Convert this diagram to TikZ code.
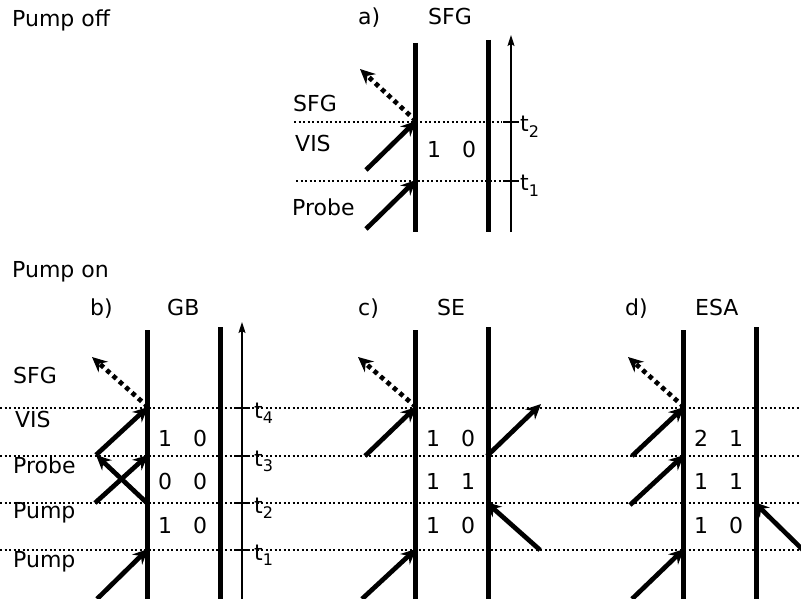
\documentclass[tikz,border=0pt]{standalone}
\usepackage{fontspec}
\setmainfont{DejaVu Sans}
\usetikzlibrary{arrows.meta}

\begin{document}
\begin{tikzpicture}[x=1pt,y=-1pt,
	wall/.style={line width=5pt},
	beam/.style={line width=4.7pt,-{Stealth[length=15pt,width=14pt,inset=5pt]}},
	signal/.style={line width=4.7pt,dash pattern=on 4.5pt off 4pt,-{Stealth[length=15pt,width=14pt,inset=5pt]}},
	level/.style={line width=1.7pt,dash pattern=on 2pt off 2.5pt},
	axis/.style={line width=1.4pt,-{Stealth[length=11pt,width=7pt,inset=2pt]}},
	txt/.style={anchor=base west,inner sep=0pt,font=\fontsize{22}{26}\selectfont},
	tlab/.style={txt}]
	\useasboundingbox (0,0) rectangle (801,599);
	\def\s{268} %shift between lower panels
	
	%WALLS
	\draw[wall] (415,43)--(415,232);
	\draw[wall] (488,40)--(488,232);
	\foreach \i in {0,1,2}{
		\draw[wall] (147+\i*\s,330)--(147+\i*\s,599);
		\draw[wall] (220+\i*\s,327)--(220+\i*\s,599);
	}
	
	%LEVELS
	\draw[level] (294,122)--(502,122);
	\draw[level] (296,181)--(502,181);
	\foreach \y in {408,456,503,550}
		\draw[level] (0,\y)--(801,\y);
	
	%TIME AXES
	\coordinate (ta0) at (511,232);
	\coordinate (ta1) at (511,35);
	\coordinate (tb0) at (242,599);
	\coordinate (tb1) at (242,322);
	\draw[axis] (ta0)--(ta1);
	\draw[axis] (tb0)--(tb1);
	\foreach \y/\l in {122/2,181/1}{
		\draw[line width=1.4pt] (503,\y)--(519,\y);
		\node[tlab] (ta\l) at (520,\y+10) {t\raisebox{-0.45ex}{\fontsize{16}{19}\selectfont\l}};
	}
	\foreach \y/\l in {408/4,456/3,503/2,550/1}{
		\draw[line width=1.4pt] (234,\y)--(250,\y);
		\node[tlab] (tb\l) at (254,\y+10) {t\raisebox{-0.45ex}{\fontsize{16}{19}\selectfont\l}};
	}
	
	%BEAM POINTS
	\foreach \n/\x/\y in {a0/366/229,a1/416/180,a2/366/170,a3/416/121,a4/360/69,
		b0/97/599,b1/148/549,b2/147/503,b3/96/455,b4/95/503,b5/148/455,b6/148/407,b7/92/357,
		c0/362/599,c1/416/549,c2/540/550,c3/486/502,c4/487/456,c5/541/404,c6/365/456,c7/416/407,c8/358/357,
		d0/632/599,d1/684/549,d2/803/550,d3/754/502,d4/630/505,d5/684/455,d6/632/456,d7/684/407,d8/628/357}
		\coordinate (\n) at (\x,\y);
	
	%BEAMS
	\draw[beam] (a0)--(a1);
	\draw[beam] (a2)--(a3);
	\draw[signal] (a3)--(a4);
	%
	\draw[beam] (b0)--(b1);
	\draw[beam] (b2)--(b3);
	\draw[beam] (b4)--(b5);
	\draw[beam] (b3)--(b6);
	\draw[signal] (b6)--(b7);
	%
	\draw[beam] (c0)--(c1);
	\draw[beam] (c2)--(c3);
	\draw[beam] (c4)--(c5);
	\draw[beam] (c6)--(c7);
	\draw[signal] (c7)--(c8);
	%
	\draw[beam] (d0)--(d1);
	\draw[beam] (d2)--(d3);
	\draw[beam] (d4)--(d5);
	\draw[beam] (d6)--(d7);
	\draw[signal] (d7)--(d8);
	
	%LABELS
	\node[txt] (off) at (12,27) {Pump off};
	\node[txt] (on) at (12,277) {Pump on};
	\foreach \n/\x/\y/\l in {a-tag/358/25/a),a-name/428/25/SFG,a-sfg/293/112/SFG,a-vis/295/152/VIS,a-probe/292/215/Probe,
		b-tag/90/315/b),b-name/167/315/GB,b-sfg/13/383/SFG,b-vis/15/427/VIS,b-probe/13/473/Probe,b-pumpa/13/518/Pump,b-pumpb/13/567/Pump,
		c-tag/358/315/c),c-name/437/315/SE,
		d-tag/625/315/d),d-name/695/315/ESA}
		\node[txt] (\n) at (\x,\y) {\l};
	
	%OCCUPATION NUMBERS
	\node[txt] (a-u1) at (427,158) {1};
	\node[txt] (a-v1) at (462,158) {0};
	\foreach \r/\y/\u/\v in {1/446/1/0,2/489/0/0,3/533/1/0}{
		\node[txt] (b-u\r) at (158,\y) {\u};
		\node[txt] (b-v\r) at (193,\y) {\v};
	}
	\foreach \r/\y/\u/\v in {1/446/1/0,2/489/1/1,3/533/1/0}{
		\node[txt] (c-u\r) at (158+\s,\y) {\u};
		\node[txt] (c-v\r) at (193+\s,\y) {\v};
	}
	\foreach \r/\y/\u/\v in {1/446/2/1,2/489/1/1,3/533/1/0}{
		\node[txt] (d-u\r) at (158+2*\s,\y) {\u};
		\node[txt] (d-v\r) at (193+2*\s,\y) {\v};
	}
\end{tikzpicture}
\end{document}
